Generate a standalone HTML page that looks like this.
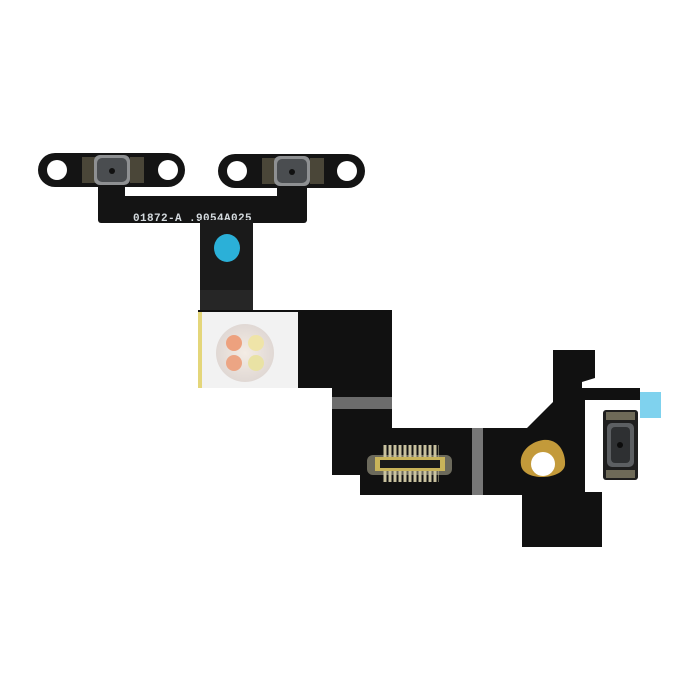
<!DOCTYPE html>
<html><head><meta charset="utf-8"><style>
html,body{margin:0;padding:0;background:#fff;}
svg{display:block;}
</style></head><body>
<svg width="700" height="700" viewBox="0 0 700 700" xmlns="http://www.w3.org/2000/svg">
<defs>
<pattern id="pins" x="383" y="0" width="5" height="10" patternUnits="userSpaceOnUse">
<rect x="0.5" y="0" width="3" height="10" fill="#c9c2a0"/>
</pattern>
<radialGradient id="led" cx="50%" cy="50%" r="50%">
<stop offset="0" stop-color="#f4ece4"/><stop offset="1" stop-color="#e0d8d4"/>
</radialGradient>
</defs>
<rect width="700" height="700" fill="#fff"/>
<rect x="38" y="153" width="147" height="34" rx="17" fill="#141414"/>
<rect x="218" y="154" width="147" height="34" rx="17" fill="#141414"/>
<circle cx="57" cy="170" r="10" fill="#fff"/>
<circle cx="168" cy="170" r="10" fill="#fff"/>
<circle cx="237" cy="171" r="10" fill="#fff"/>
<circle cx="347" cy="171" r="10" fill="#fff"/>
<rect x="82" y="157" width="14" height="26" fill="#4a4638"/>
<rect x="130" y="157" width="14" height="26" fill="#4a4638"/>
<rect x="262" y="158" width="14" height="26" fill="#4a4638"/>
<rect x="310" y="158" width="14" height="26" fill="#4a4638"/>
<rect x="94" y="155" width="36" height="30" rx="6" fill="#8e9092"/>
<rect x="97" y="158" width="30" height="24" rx="5" fill="#4a4d50"/>
<circle cx="112" cy="171" r="3" fill="#111"/>
<rect x="274" y="156" width="36" height="30" rx="6" fill="#8e9092"/>
<rect x="277" y="159" width="30" height="24" rx="5" fill="#4a4d50"/>
<circle cx="292" cy="172" r="3" fill="#111"/>
<rect x="98" y="185" width="27" height="15" fill="#141414"/>
<rect x="277" y="186" width="30" height="14" fill="#141414"/>
<rect x="98" y="196" width="209" height="27" rx="3" fill="#141414"/>
<text x="133" y="221" font-family="Liberation Mono, monospace" font-size="11" font-weight="bold" fill="#d4dade" letter-spacing="0.4">01872-A .9054A025</text>
<rect x="200" y="220" width="53" height="95" fill="#1a1a1a"/>
<rect x="200" y="290" width="53" height="20" fill="#262626"/>
<ellipse cx="227" cy="248" rx="13" ry="14" fill="#2bb0d8"/>
<polygon fill="#111" points="198,310 392,310 392,428 527,428 553,402 553,350 595,350 595,378 582,382 582,388 640,388 640,400 585,400 585,492 602,492 602,547 522,547 522,495 360,495 360,475 332,475 332,388 198,388"/>
<rect x="332" y="397" width="60" height="12" fill="#6c6c6c"/>
<rect x="472" y="428" width="11" height="67" fill="#777"/>
<rect x="198" y="312" width="100" height="76" fill="#f2f2f2"/>
<rect x="198" y="312" width="4" height="76" fill="#e4d67a"/>
<circle cx="245" cy="353" r="29" fill="url(#led)"/>
<circle cx="234" cy="343" r="8" fill="#eda17e"/>
<circle cx="256" cy="343" r="8" fill="#efe4a8"/>
<circle cx="234" cy="363" r="8" fill="#eca584"/>
<circle cx="256" cy="363" r="8" fill="#e9e2a4"/>
<rect x="367" y="455" width="85" height="20" rx="6" fill="#6c6a5c"/>
<rect x="383" y="445" width="56" height="12" fill="url(#pins)"/>
<rect x="383" y="471" width="56" height="11" fill="url(#pins)"/>
<rect x="375" y="457" width="70" height="14" fill="#c9b45a"/>
<rect x="380" y="460" width="60" height="8" fill="#1a1a1a"/>
<path d="M543,440 C560,438 566,455 565,465 C563,480 523,482 521,465 C519,452 530,442 543,440 Z" fill="#c39a3a"/>
<circle cx="543" cy="464" r="12" fill="#fff"/>
<rect x="603" y="410" width="35" height="70" rx="3" fill="#1e1e1e"/>
<rect x="606" y="412" width="29" height="8" fill="#6e6a58"/>
<rect x="606" y="470" width="29" height="8" fill="#6e6a58"/>
<rect x="607" y="423" width="27" height="44" rx="5" fill="#5c5f62"/>
<rect x="611" y="427" width="19" height="36" rx="4" fill="#2e3032"/>
<circle cx="620" cy="445" r="3" fill="#0c0c0c"/>
<rect x="640" y="392" width="21" height="26" fill="#7fd2ee"/>
</svg>
</body></html>
